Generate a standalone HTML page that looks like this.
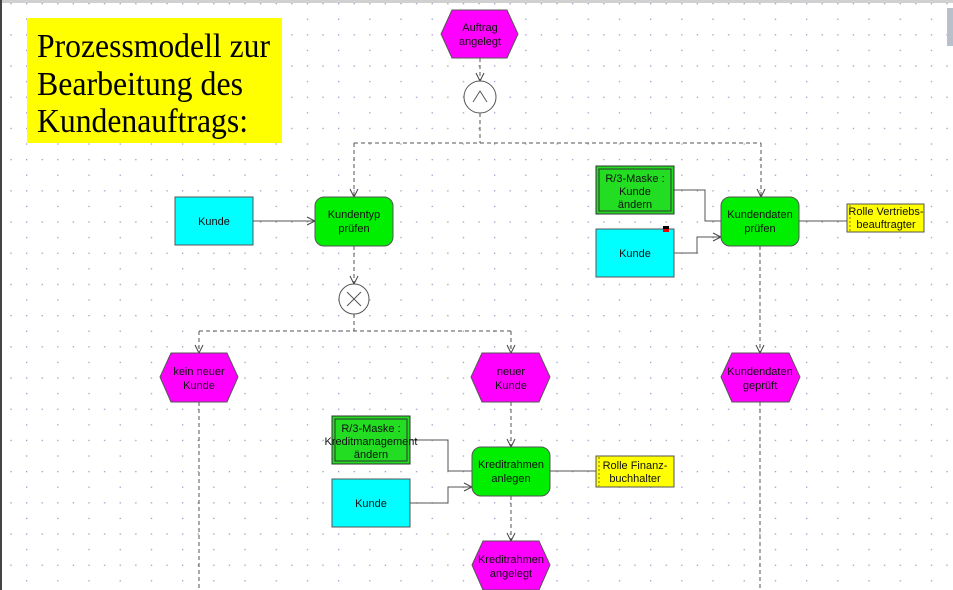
<!DOCTYPE html>
<html><head><meta charset="utf-8"><style>
html,body{margin:0;padding:0;background:#fff;overflow:hidden}
svg{display:block}
text{font-family:"Liberation Sans",sans-serif;font-size:11px;fill:#111}
text.t{font-family:"Liberation Serif",serif;font-size:34px;fill:#000}
</style></head><body>
<svg width="953" height="590" viewBox="0 0 953 590" xmlns="http://www.w3.org/2000/svg">
<defs>
<pattern id="g" x="26" y="3" width="31.2" height="31.2" patternUnits="userSpaceOnUse">
<rect x="0" y="0" width="1.3" height="1.3" fill="#9a9ac8"/>
<rect x="15.6" y="0" width="1.3" height="1.3" fill="#9a9ac8"/>
<rect x="0" y="15.6" width="1.3" height="1.3" fill="#9a9ac8"/>
</pattern>
<marker id="a" markerWidth="10" markerHeight="10" refX="9" refY="5" orient="auto" markerUnits="userSpaceOnUse"><path d="M1,1 L9,5 L1,9" fill="none" stroke="#444" stroke-width="1"/></marker>
</defs>
<rect width="953" height="590" fill="url(#g)"/>
<rect x="0" y="0" width="953" height="3" fill="#d0d0d0"/>
<rect x="0" y="0" width="2" height="590" fill="#444"/>
<rect x="947" y="8" width="6" height="38" fill="#b8c0cc"/>

<!-- title -->
<rect x="27" y="18" width="255" height="125" fill="#ffff00"/>
<text class="t" x="37" y="57" textLength="233" lengthAdjust="spacingAndGlyphs">Prozessmodell zur</text>
<text class="t" x="37" y="95" textLength="206" lengthAdjust="spacingAndGlyphs">Bearbeitung des</text>
<text class="t" x="37" y="132" textLength="211" lengthAdjust="spacingAndGlyphs">Kundenauftrags:</text>

<!-- dashed control flow -->
<g stroke="#555" stroke-width="1" stroke-dasharray="4,3" fill="none">
<path d="M480,58 V81" marker-end="url(#a)"/>
<path d="M480,113 V143 M354,143 H761"/>
<path d="M354,143 V197" marker-end="url(#a)"/>
<path d="M761,143 V197" marker-end="url(#a)"/>
<path d="M354,246 V284" marker-end="url(#a)"/>
<path d="M354,314 V331 M199,331 H511"/>
<path d="M199,331 V353" marker-end="url(#a)"/>
<path d="M511,331 V353" marker-end="url(#a)"/>
<path d="M760,246 V353" marker-end="url(#a)"/>
<path d="M760,402 V590"/>
<path d="M199,402 V590"/>
<path d="M511,402 V447" marker-end="url(#a)"/>
<path d="M511,496 V541" marker-end="url(#a)"/>
</g>

<!-- solid lines -->
<g stroke="#555" stroke-width="1" fill="none">
<path d="M253,221 H315" marker-end="url(#a)"/>
<path d="M674,190 H705 V221 H721"/>
<path d="M674,253 H697 V237 H721" marker-end="url(#a)"/>
<path d="M799,221 H847"/>
<path d="M410,440 H448 V471 H472"/>
<path d="M410,503 H448 V487 H472" marker-end="url(#a)"/>
<path d="M550,471 H596"/>
</g>

<!-- events -->
<g fill="#ff00ff" stroke="#555" stroke-width="1">
<polygon points="452,10 507,10 518,34 507,58 452,58 441,34"/>
<polygon points="171,353 227,353 238,377 227,402 171,402 160,377"/>
<polygon points="482,353 539,353 550,377 539,402 482,402 471,377"/>
<polygon points="732,353 789,353 800,377 789,402 732,402 721,377"/>
<polygon points="483,541 539,541 550,565 539,590 483,590 472,565"/>
</g>
<text x="480" y="31" text-anchor="middle">Auftrag</text><text x="480" y="45" text-anchor="middle">angelegt</text>
<text x="199" y="375" text-anchor="middle">kein neuer</text><text x="199" y="389" text-anchor="middle">Kunde</text>
<text x="511" y="375" text-anchor="middle">neuer</text><text x="511" y="389" text-anchor="middle">Kunde</text>
<text x="760" y="375" text-anchor="middle">Kundendaten</text><text x="760" y="389" text-anchor="middle">geprüft</text>
<text x="511" y="563" text-anchor="middle">Kreditrahmen</text><text x="511" y="577" text-anchor="middle">angelegt</text>

<!-- connectors -->
<circle cx="480" cy="97" r="16" fill="#fff" stroke="#555"/>
<path d="M473,102 L480,91 L487,102" fill="none" stroke="#555"/>
<circle cx="354" cy="299" r="15" fill="#fff" stroke="#555"/>
<path d="M347,292 L361,306 M361,292 L347,306" stroke="#555"/>

<!-- functions -->
<g fill="#00ee00" stroke="#555" stroke-width="1">
<rect x="315" y="197" width="78" height="49" rx="9"/>
<rect x="721" y="197" width="78" height="49" rx="9"/>
<rect x="472" y="447" width="78" height="49" rx="9"/>
</g>
<text x="354" y="218" text-anchor="middle">Kundentyp</text><text x="354" y="232" text-anchor="middle">prüfen</text>
<text x="760" y="218" text-anchor="middle">Kundendaten</text><text x="760" y="232" text-anchor="middle">prüfen</text>
<text x="511" y="468" text-anchor="middle">Kreditrahmen</text><text x="511" y="482" text-anchor="middle">anlegen</text>

<!-- cyan -->
<g fill="#00ffff" stroke="#555">
<rect x="175" y="197" width="78" height="48"/>
<rect x="596" y="229" width="78" height="48"/>
<rect x="332" y="479" width="78" height="48"/>
</g>
<text x="214" y="225" text-anchor="middle">Kunde</text>
<text x="635" y="257" text-anchor="middle">Kunde</text>
<text x="371" y="507" text-anchor="middle">Kunde</text>
<rect x="663" y="226" width="6" height="3" fill="#000"/><rect x="663" y="229" width="6" height="3" fill="#e00"/>

<!-- masks -->
<g fill="#22dd22" stroke="#333">
<rect x="596" y="166" width="78" height="48"/>
<rect x="599" y="169" width="72" height="42" fill="none"/>
<rect x="332" y="416" width="78" height="48"/>
<rect x="335" y="419" width="72" height="42" fill="none"/>
</g>
<text x="635" y="182" text-anchor="middle">R/3-Maske :</text><text x="635" y="195" text-anchor="middle">Kunde</text><text x="635" y="208" text-anchor="middle">ändern</text>
<text x="371" y="432" text-anchor="middle">R/3-Maske :</text><text x="371" y="445" text-anchor="middle">Kreditmanagement</text><text x="371" y="458" text-anchor="middle">ändern</text>

<!-- roles -->
<g fill="#ffff00" stroke="#555">
<rect x="847" y="204" width="77" height="28"/>
<rect x="596" y="456" width="78" height="31"/>
</g>
<path d="M850,205 V231 M599,457 V486" stroke="#887700" stroke-dasharray="2,2"/>
<text x="886" y="215" text-anchor="middle">Rolle Vertriebs-</text><text x="886" y="228" text-anchor="middle">beauftragter</text>
<text x="635" y="469" text-anchor="middle">Rolle Finanz-</text><text x="635" y="482" text-anchor="middle">buchhalter</text>
</svg>
</body></html>
